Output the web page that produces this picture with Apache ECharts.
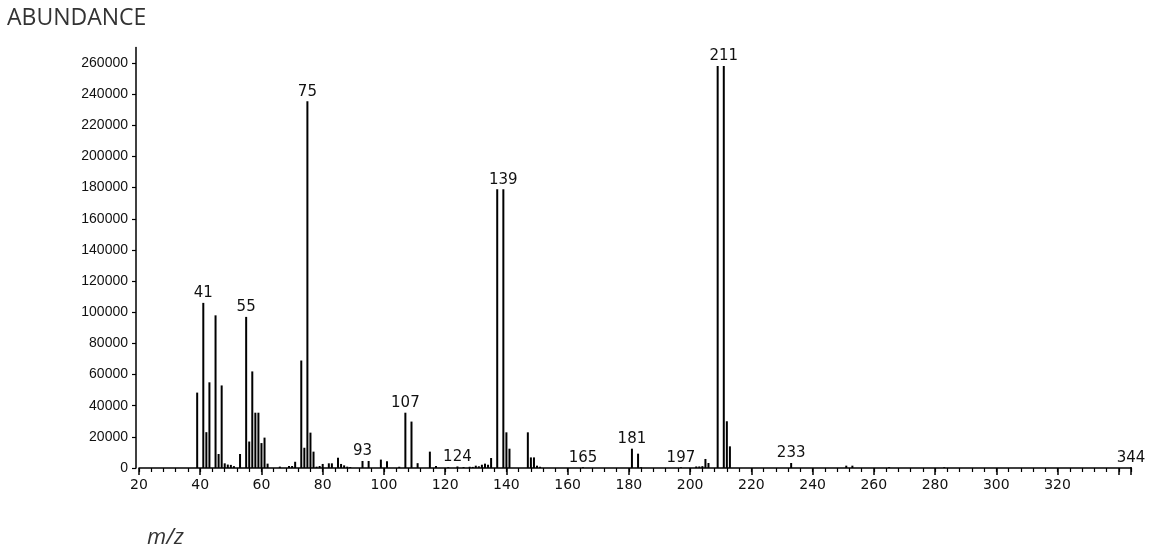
<!DOCTYPE html>
<html>
<head>
<meta charset="utf-8">
<script src="https://cdn.jsdelivr.net/npm/echarts@6/dist/echarts.min.js"></script>
<style>html,body{margin:0;padding:0;background:#fff;}#c{width:1159px;height:550px;}</style>
</head>
<body>
<div id="c"></div>
<script>
// m/z values of peaks
const mz = [39,41,42,43,45,46,47,48,49,50,51,53,55,56,57,58,59,60,61,62,66,69,70,71,73,74,75,76,77,78,79,80,82,83,85,86,87,88,89,93,95,99,101,105,107,109,111,115,117,121,124,126,128,129,130,131,132,133,134,135,137,139,140,141,147,148,149,150,151,165,181,183,184,197,202,203,204,205,206,209,211,212,213,233,251,253,265,283,344];
// abundance of each peak
const abundance = [48400,106000,23000,55000,98000,9000,53000,3000,2200,2000,1200,9000,97000,17000,62000,35500,35500,16000,19500,2800,900,1300,1300,4000,69000,13000,235500,22700,10500,850,1300,2600,3000,3000,6600,2600,1700,850,600,4500,4500,5400,4300,800,35500,29800,3100,10500,1300,500,1000,600,800,700,1500,1100,2100,2800,2100,6400,179000,179000,22900,12400,22900,6800,6800,1500,800,500,12400,9200,500,500,1000,1000,1200,5800,3200,258000,258000,30000,13900,3200,1500,1500,500,500,500];
// peaks annotated with their m/z
const labeledMz = [41,55,75,93,107,124,139,165,181,197,211,233,344];
// axis tick labels
const xTickLabels = [20,40,60,80,100,120,140,160,180,200,220,240,260,280,300,320];
const yTickLabels = [0,20000,40000,60000,80000,100000,120000,140000,160000,180000,200000,220000,240000,260000];

const chart = echarts.init(document.getElementById('c'), null, {renderer:'canvas'});
const font = 'Liberation Sans, Arial, sans-serif';
const option = {
  animation: false,
  backgroundColor: '#fff',
  title: [
    {text: 'ABUNDANCE', left: 7, top: 7, padding: 0,
     textStyle: {fontFamily: 'Open Sans, sans-serif', fontSize: 23, fontWeight: 'normal', color: '#333'}},
    {text: 'm/z', left: 147, top: 527, padding: 0,
     textStyle: {fontFamily: 'Open Sans, sans-serif', fontSize: 22, fontStyle: 'italic', fontWeight: 'normal', color: '#333'}}
  ],
  grid: {left: 139, right: 28, top: 47.4, bottom: 82, containLabel: false},
  xAxis: [
    {type: 'value', min: 20, max: 344, interval: 20, position: 'bottom',
     axisLine: {lineStyle: {color: '#000', width: 1.5}},
     axisTick: {length: 7, lineStyle: {color: '#000', width: 1.5}},
     axisLabel: {customValues: xTickLabels, fontFamily: 'DejaVu Sans, sans-serif', fontSize: 14, color: '#111', margin: 10},
     splitLine: {show: false}},
    {type: 'value', min: 20, max: 344, interval: 4, position: 'bottom',
     axisLine: {show: false},
     axisTick: {length: 4, lineStyle: {color: '#000', width: 1.2}},
     axisLabel: {show: false},
     splitLine: {show: false}}
  ],
  yAxis: {type: 'value', min: 0, max: 270000, interval: 20000, offset: 3,
    axisLine: {show: true, lineStyle: {color: '#000', width: 1.5}},
    axisTick: {show: true, length: 4, customValues: yTickLabels, lineStyle: {color: '#000', width: 1.2}},
    axisLabel: {customValues: yTickLabels, formatter: v => String(v), fontFamily: font, fontSize: 14, color: '#111', margin: 8},
    splitLine: {show: false}},
  series: [{
    type: 'bar', xAxisIndex: 0, barWidth: 2,
    itemStyle: {color: '#000'},
    label: {position: 'top', distance: 2, fontFamily: 'DejaVu Sans, sans-serif', fontSize: 15, color: '#111',
            formatter: p => String(p.value[0])},
    data: mz.map((m, i) => ({value: [m, abundance[i]], label: {show: labeledMz.includes(m)}}))
  }]
};
chart.setOption(option);
</script>
</body>
</html>
